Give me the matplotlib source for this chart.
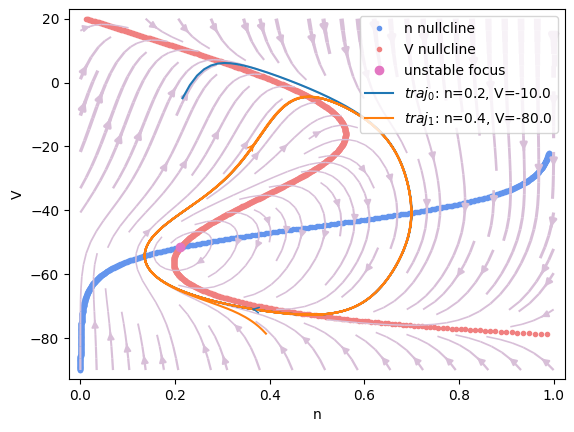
import numpy as np
import matplotlib
matplotlib.use("Agg")
import matplotlib.pyplot as plt

# ---- model parameters (persistent Na + K model) ----
C = 1.0
I_ext = 50.0
g_L, E_L = 8.0, -78.0
g_Na, E_Na = 20.0, 60.0
g_K, E_K = 10.0, -90.0
m_half, m_k = -20.0, 15.0
n_half, n_k = -45.0, 5.0
tau_n = 1.0

n_range = [0.0, 1.0]
V_range = [-90.0, 20.0]
init_n = [0.2, 0.4]
init_V = [-10.0, -80.0]
arrow_times = [5.10, 1.98]
T_end = 10.2
dt_out = 0.02


def m_inf(V):
    return 1.0 / (1.0 + np.exp((m_half - V) / m_k))


def n_inf(V):
    return 1.0 / (1.0 + np.exp((n_half - V) / n_k))


def dV(n, V):
    return (I_ext - g_L * (V - E_L) - g_Na * m_inf(V) * (V - E_Na) - g_K * n * (V - E_K)) / C


def dn(n, V):
    return (n_inf(V) - n) / tau_n


def V_null_n(V):
    with np.errstate(divide="ignore", invalid="ignore"):
        return (I_ext - g_L * (V - E_L) - g_Na * m_inf(V) * (V - E_Na)) / (g_K * (V - E_K))


def simulate(n0, V0, T, h=0.001, every=20):
    n, V = n0, V0
    ns, Vs, ts = [], [], []
    steps = int(round(T / h))
    for i in range(1, steps + 1):
        k1n, k1v = dn(n, V), dV(n, V)
        k2n, k2v = dn(n + h / 2 * k1n, V + h / 2 * k1v), dV(n + h / 2 * k1n, V + h / 2 * k1v)
        k3n, k3v = dn(n + h / 2 * k2n, V + h / 2 * k2v), dV(n + h / 2 * k2n, V + h / 2 * k2v)
        k4n, k4v = dn(n + h * k3n, V + h * k3v), dV(n + h * k3n, V + h * k3v)
        n += h / 6 * (k1n + 2 * k2n + 2 * k3n + k4n)
        V += h / 6 * (k1v + 2 * k2v + 2 * k3v + k4v)
        if i % every == 0:
            ns.append(n); Vs.append(V); ts.append(i * h)
    return np.array(ns), np.array(Vs), np.array(ts)


fig = plt.figure(figsize=(5.74, 4.32), dpi=100)
ax = fig.add_axes([69 / 574, 53 / 432, 496 / 574, 369.6 / 432])

# nullclines
Vs = np.arange(V_range[0], V_range[1] + 1e-9, 0.1)
nn_n = n_inf(Vs)
mask = (nn_n >= 0) & (nn_n < 0.99)
ax.plot(nn_n[mask], Vs[mask], ".", color="cornflowerblue", label="n nullcline")
nv = V_null_n(Vs)
mask = np.isfinite(nv) & (nv >= 0) & (nv < 0.99)
ax.plot(nv[mask], Vs[mask], ".", color="lightcoral", label="V nullcline")

# fixed point (intersection of the nullclines)
diff = n_inf(Vs) - V_null_n(Vs)
ok = np.isfinite(diff)
idx = np.where(ok[:-1] & ok[1:] & (np.sign(diff[:-1]) != np.sign(diff[1:])))[0]
i0 = idx[0]
fr = diff[i0] / (diff[i0] - diff[i0 + 1])
Vf = Vs[i0] + fr * (Vs[i0 + 1] - Vs[i0])
nf = n_inf(Vf)
ax.plot([nf], [Vf], "o", color="tab:pink", label="unstable focus")

# vector field
gn = np.linspace(n_range[0], n_range[1], 100)
gV = np.linspace(V_range[0], V_range[1], 100)
GN, GV = np.meshgrid(gn, gV)
U = dn(GN, GV)
W = dV(GN, GV)
speed = np.sqrt(U ** 2 + W ** 2)
lw = 1.0 + 4.0 * speed / speed.max()
ax.streamplot(gn, gV, U, W, color="thistle", linewidth=lw, density=1)

# trajectories
colors = ["tab:blue", "tab:orange"]
for k, (n0, V0) in enumerate(zip(init_n, init_V)):
    tn, tV, tt = simulate(n0, V0, T_end)
    ax.plot(tn, tV, color=colors[k], label=f"$traj_{k}$: n={n0}, V={V0}")
    j = int(np.argmin(np.abs(tt - arrow_times[k])))
    ax.annotate("", xy=(tn[j + 1], tV[j + 1]), xytext=(tn[j], tV[j]),
                arrowprops=dict(arrowstyle="->", color=colors[k]))

ax.set_xlim(-0.024, 1.024)
ax.set_ylim(-92.8, 22.9)
ax.set_xlabel("n")
ax.set_ylabel("V")
ax.legend(loc="upper right")
fig.savefig("out.png", dpi=100)
